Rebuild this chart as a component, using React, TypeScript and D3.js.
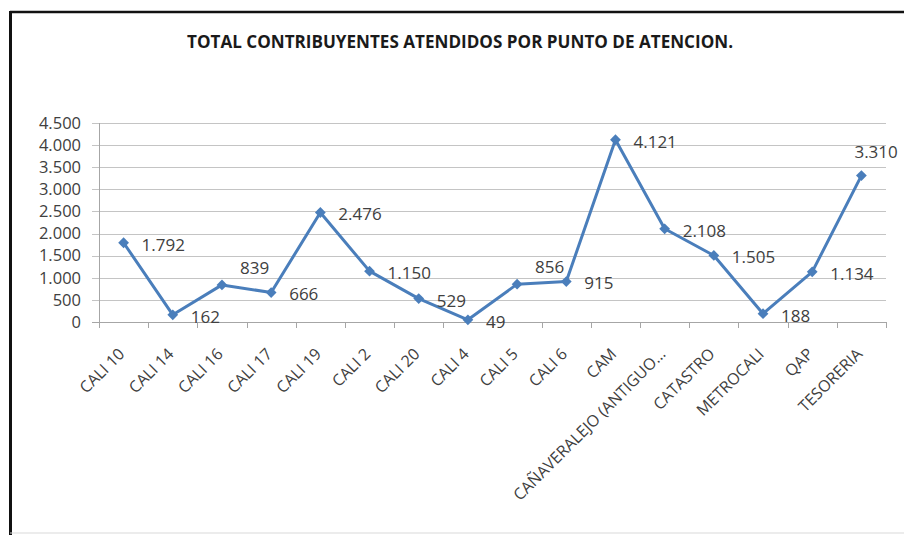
import React, {useRef, useEffect} from 'react';
import * as d3 from 'd3';

const categories: string[] = [
    'CALI 10', 'CALI 14', 'CALI 16', 'CALI 17', 'CALI 19', 'CALI 2', 'CALI 20', 'CALI 4',
    'CALI 5', 'CALI 6', 'CAM', 'CAÑAVERALEJO (ANTIGUO…', 'CATASTRO', 'METROCALI', 'QAP', 'TESORERIA'
];
const values: number[] = [1792, 162, 839, 666, 2476, 1150, 529, 49, 856, 915, 4121, 2108, 1505, 188, 1134, 3310];
const yTicks: number[] = [0, 500, 1000, 1500, 2000, 2500, 3000, 3500, 4000, 4500];
// where each data label sits relative to its point
const labelSide: string[] = [
    'right', 'right', 'upRight', 'right', 'right', 'right', 'right', 'right',
    'upRight', 'right', 'right', 'right', 'right', 'right', 'right', 'up'
];
const title = 'TOTAL CONTRIBUYENTES ATENDIDOS POR PUNTO DE ATENCION.';

const WIDTH = 904;
const HEIGHT = 535;
const lineColor = '#4a7ebb';
const textColor = '#404040';
const font = '"Open Sans", "Noto Sans", sans-serif';

const fmt = (v: number) => d3.format(',')(v).replace(/,/g, '.');

const LineChart: React.FC = () => {
    const ref = useRef<SVGSVGElement | null>(null);

    useEffect(() => {
        if (!ref.current) return;
        const svg = d3.select(ref.current);
        svg.selectAll('*').remove();

        const x = d3.scaleBand<string>().domain(categories).range([99, 886]);
        const y = d3.scaleLinear().domain([0, 4500]).range([322, 123]);
        const cx = (i: number) => (x(categories[i]) as number) + x.bandwidth() / 2;

        svg.append('rect').attr('width', WIDTH).attr('height', HEIGHT).attr('fill', '#fff');

        // frame
        svg.append('line').attr('x1', 10).attr('x2', WIDTH).attr('y1', 12).attr('y2', 12)
            .attr('stroke', '#111').attr('stroke-width', 2.5);
        svg.append('line').attr('x1', 10.5).attr('x2', 10.5).attr('y1', 11).attr('y2', HEIGHT)
            .attr('stroke', '#111').attr('stroke-width', 3);
        svg.append('line').attr('x1', 10).attr('x2', WIDTH).attr('y1', 533).attr('y2', 533)
            .attr('stroke', '#d9d9d9').attr('stroke-width', 1);

        svg.append('text')
            .attr('x', 460).attr('y', 48)
            .attr('text-anchor', 'middle')
            .attr('font-family', font).attr('font-weight', 'bold').attr('font-size', '17px')
            .attr('textLength', 546).attr('lengthAdjust', 'spacingAndGlyphs')
            .attr('fill', '#1a1a1a')
            .text(title);

        // gridlines + y ticks
        svg.append('g').selectAll('line')
            .data(yTicks)
            .join('line')
            .attr('x1', 92).attr('x2', 886)
            .attr('y1', d => Math.round(y(d)) + 0.5).attr('y2', d => Math.round(y(d)) + 0.5)
            .attr('stroke', d => d === 0 ? '#a6a6a6' : '#c4c4c4')
            .attr('stroke-width', 1);

        svg.append('g').selectAll('text')
            .data(yTicks)
            .join('text')
            .attr('x', 81).attr('y', d => y(d)).attr('dy', '0.35em')
            .attr('text-anchor', 'end')
            .attr('font-family', font).attr('font-size', '16.5px')
            .attr('fill', textColor)
            .text(d => fmt(d));

        svg.append('line').attr('x1', 99.5).attr('x2', 99.5).attr('y1', y(4500)).attr('y2', y(0))
            .attr('stroke', '#a6a6a6');

        // x ticks at band edges
        const edges = categories.map(c => x(c) as number).concat([886]);
        svg.append('g').selectAll('line')
            .data(edges)
            .join('line')
            .attr('x1', d => Math.round(d) + 0.5).attr('x2', d => Math.round(d) + 0.5)
            .attr('y1', 322).attr('y2', 328)
            .attr('stroke', '#a6a6a6');

        svg.append('g').selectAll('text')
            .data(categories)
            .join('text')
            .attr('transform', (d, i) => `translate(${cx(i) + 2},${355}) rotate(-45)`)
            .attr('text-anchor', 'end')
            .attr('font-family', font).attr('font-size', '16px')
            .attr('fill', textColor)
            .text(d => d);

        // series
        const line = d3.line<number>()
            .x((d, i) => cx(i))
            .y(d => y(d));

        svg.append('path')
            .datum(values)
            .attr('d', line)
            .attr('fill', 'none')
            .attr('stroke', lineColor)
            .attr('stroke-width', 3)
            .attr('stroke-linejoin', 'round');

        svg.append('g').selectAll('path')
            .data(values)
            .join('path')
            .attr('d', d3.symbol().type(d3.symbolSquare).size(58)())
            .attr('transform', (d, i) => `translate(${cx(i)},${y(d)}) rotate(45)`)
            .attr('fill', lineColor);

        const offsets: Record<string, [number, number]> = {
            right: [18, 2],
            upRight: [18, -17],
            up: [-7, -24],
        };

        svg.append('g').selectAll('text')
            .data(values)
            .join('text')
            .attr('x', (d, i) => cx(i) + offsets[labelSide[i]][0])
            .attr('y', (d, i) => y(d) + offsets[labelSide[i]][1])
            .attr('dy', '0.35em')
            .attr('font-family', font).attr('font-size', '17px')
            .attr('fill', textColor)
            .text(d => fmt(d));

        return () => {
            // eslint-disable-next-line react-hooks/exhaustive-deps
            d3.select(ref.current).selectAll('*').remove();
        };
    }, []);

    return <svg ref={ref} width={WIDTH} height={HEIGHT}
                style={{position: 'absolute', left: 0, top: 0, display: 'block'}}></svg>;
};

const App: React.FC = () => <LineChart/>;

export default App;
